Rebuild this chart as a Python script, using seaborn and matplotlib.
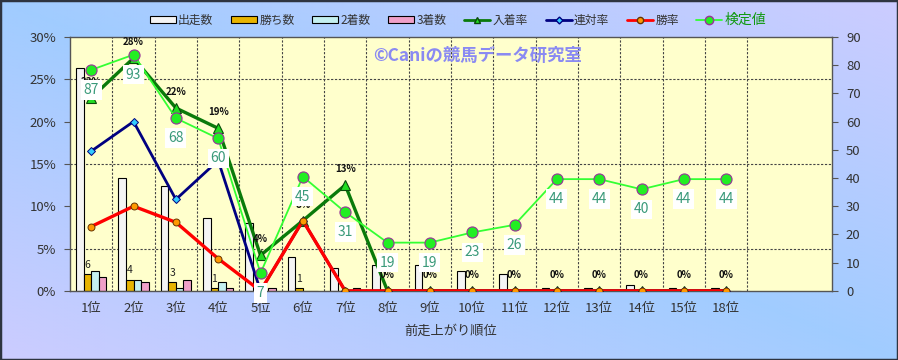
import numpy as np
import pandas as pd
import matplotlib
matplotlib.use("Agg")
import matplotlib.pyplot as plt
from matplotlib.patches import Rectangle, Patch
from matplotlib.lines import Line2D
import seaborn as sns

sns.set_theme(style="white")
plt.rcParams["font.family"] = ["Noto Sans CJK JP", "DejaVu Sans"]

# ── data ────────────────────────────────────────────────────────────────
POSITIONS = ["1位", "2位", "3位", "4位", "5位", "6位", "7位", "8位",
             "9位", "10位", "11位", "12位", "13位", "14位", "15位", "18位"]
SLOTS = POSITIONS + ["", " "]          # two empty slots at the right end

STARTS = [79, 40, 37, 26, 24, 12, 8, 9, 9, 7, 6, 1, 1, 2, 1, 1]
WINS = [6, 4, 3, 1, 0, 1, 0, 0, 0, 0, 0, 0, 0, 0, 0, 0]
SECONDS = [7, 4, 1, 3, 0, 0, 0, 0, 0, 0, 0, 0, 0, 0, 0, 0]
THIRDS = [5, 3, 4, 1, 1, 0, 1, 0, 0, 0, 0, 0, 0, 0, 0, 0]

PLACE_RATE = [22.8, 27.5, 21.6, 19.2, 4.2, 8.3, 12.5, 0, 0, 0, 0, 0, 0, 0, 0, 0]
QUINELLA_RATE = [16.5, 20.0, 10.8, 15.4, 0, 8.3, 0, 0, 0, 0, 0, 0, 0, 0, 0, 0]
WIN_RATE = [7.6, 10.0, 8.1, 3.8, 0, 8.3, 0, 0, 0, 0, 0, 0, 0, 0, 0, 0]

TEST_VALUE = [87, 93, 68, 60, 7, 45, 31, 19, 19, 23, 26, 44, 44, 40, 44, 44]

BAR_SERIES = ["出走数", "勝ち数", "2着数", "3着数"]
BAR_COLORS = ["#F4F4F4", "#E8B400", "#C4F0F0", "#F0A0C8"]

# ── figure + gradient background ────────────────────────────────────────
fig = plt.figure(figsize=(8.98, 3.6), dpi=100)
bg = fig.add_axes([0, 0, 1, 1])
bg.set_zorder(-10)
xx, yy = np.meshgrid(np.linspace(0, 1, 300), np.linspace(0, 1, 120))
t = np.abs(xx - yy)[..., None]
blue = np.array([0.63, 0.80, 1.0])
lav = np.array([0.80, 0.80, 1.0])
bg.imshow(blue * (1 - t) + lav * t, aspect="auto", extent=[0, 1, 0, 1], origin="upper")
bg.set_xlim(0, 1)
bg.set_ylim(0, 1)
bg.axis("off")
bg.add_patch(Rectangle((0, 0), 1, 1, transform=bg.transAxes, fill=False,
                       edgecolor="#2E3440", linewidth=2.5))

ax = fig.add_axes([0.078, 0.192, 0.8485, 0.7055])
ax.set_facecolor("#FFFFCC")
ax2 = ax.twinx()   # rates, left axis
ax3 = ax.twinx()   # test value, hidden scale

# bars (counts, right axis 0-90)
long = pd.DataFrame({
    "pos": np.tile(POSITIONS, 4),
    "count": STARTS + WINS + SECONDS + THIRDS,
    "series": np.repeat(BAR_SERIES, len(POSITIONS)),
})
sns.barplot(data=long, x="pos", y="count", hue="series", order=SLOTS,
            hue_order=BAR_SERIES, palette=BAR_COLORS, saturation=1,
            width=0.72, edgecolor="black", linewidth=0.8, errorbar=None,
            legend=False, ax=ax, zorder=2)
win_bars = ax.containers[1]
ax.bar_label(win_bars, labels=[f"{int(v)}" if v > 0 else "" for v in win_bars.datavalues],
             padding=3, fontsize=7.5, color="#222222")

ax.set_ylim(0, 90)
ax.set_xlim(-0.5, len(SLOTS) - 0.5)
ax.set_yticks(np.arange(0, 91, 10))
ax.set_yticks(np.arange(15, 90, 15), minor=True)
ax.set_xticks(np.arange(len(SLOTS)))
ax.set_xticklabels(SLOTS)
ax.set_xticks(np.arange(0.5, len(POSITIONS) + 0.5, 1), minor=True)
ax.grid(which="minor", color="#444444", linestyle=(0, (2, 1.5)), linewidth=0.8, zorder=0)
ax.set_axisbelow(True)
ax.yaxis.tick_right()
ax.tick_params(axis="y", which="major", direction="out", length=4, width=0.8,
               color="#555555", labelsize=9.5, labelcolor="#333333",
               left=False, right=True, labelleft=False, labelright=True, pad=6)
ax.tick_params(axis="y", which="minor", length=0)
ax.tick_params(axis="x", which="both", length=0, labelsize=9.5, labelcolor="#333333", pad=8)
ax.set_xlabel("前走上がり順位", fontsize=9.5, color="#333333", labelpad=7)
ax.set_ylabel("")
for s in ax.spines.values():
    s.set_color("#555555")
    s.set_linewidth(1)

ax.text(0.535, 0.925, "©Caniの競馬データ研究室", transform=ax.transAxes,
        ha="center", va="center", fontsize=12.5, fontweight="bold", color="#8A8AF2", zorder=1)

# rates (left axis 0-30%)
x = np.arange(len(POSITIONS))
sns.lineplot(x=x, y=PLACE_RATE, ax=ax2, color="#0A7A0A", linewidth=2.4,
             marker="^", markersize=7, markerfacecolor="#22DD22",
             markeredgecolor="#0A4A0A", markeredgewidth=0.8)
sns.lineplot(x=x, y=QUINELLA_RATE, ax=ax2, color="#000080", linewidth=2.0,
             marker="D", markersize=4.5, markerfacecolor="#33CCFF",
             markeredgecolor="#000080", markeredgewidth=0.7)
sns.lineplot(x=x, y=WIN_RATE, ax=ax2, color="#FF0000", linewidth=2.4,
             marker="o", markersize=5, markerfacecolor="#FF9900",
             markeredgecolor="#663300", markeredgewidth=0.7)
for i, v in enumerate(PLACE_RATE):
    ax2.annotate(f"{int(v + 0.5)}%", (i, v), xytext=(0, 11), textcoords="offset pixels",
                 ha="center", va="bottom", fontsize=7, fontweight="bold", color="#111111")
ax2.set_ylim(0, 30)
ax2.set_yticks(np.arange(0, 31, 5))
ax2.yaxis.set_major_formatter(lambda v, _: f"{int(v)}%")
ax2.yaxis.tick_left()
ax2.tick_params(axis="y", direction="out", length=4, width=0.8, color="#555555",
                labelsize=9.5, labelcolor="#333333", left=True, right=False,
                labelleft=True, labelright=False, pad=6)
ax2.set_ylabel("")
for s in ax2.spines.values():
    s.set_visible(False)

# test value (own hidden 0-100 scale)
sns.lineplot(x=x, y=TEST_VALUE, ax=ax3, color="#33FF33", linewidth=1.3,
             marker="o", markersize=8, markerfacecolor="#22EE22",
             markeredgecolor="#993399", markeredgewidth=0.8)
for i, v in enumerate(TEST_VALUE):
    ax3.annotate(f"{v}", (i, v), xytext=(0, -20), textcoords="offset pixels",
                 ha="center", va="center", fontsize=10, color="#3A9A7A", zorder=10,
                 bbox=dict(boxstyle="square,pad=0.2", facecolor="white", edgecolor="none"))
ax3.set_ylim(0, 100)
ax3.set_yticks([])
ax3.set_ylabel("")
for s in ax3.spines.values():
    s.set_visible(False)
ax3.set_xlim(-0.5, len(SLOTS) - 0.5)

# legend
handles = [Patch(facecolor=c, edgecolor="black", linewidth=0.8) for c in BAR_COLORS]
handles += [
    Line2D([], [], color="#0A7A0A", lw=2, marker="^", ms=5, mfc="#22DD22", mec="#0A4A0A"),
    Line2D([], [], color="#000080", lw=2, marker="D", ms=3.5, mfc="#33CCFF", mec="#000080"),
    Line2D([], [], color="#FF0000", lw=2, marker="o", ms=4.5, mfc="#FF9900", mec="#663300"),
    Line2D([], [], color="#33FF33", lw=1.3, marker="o", ms=6, mfc="#22EE22", mec="#993399"),
]
labels = BAR_SERIES + ["入着率", "連対率", "勝率", "検定値"]
leg = fig.legend(handles, labels, loc="center", bbox_to_anchor=(0.51, 0.945), ncol=8,
                 frameon=False, fontsize=8.5, handlelength=2.2, handleheight=0.45,
                 handletextpad=0.2, columnspacing=1.5)
for txt in leg.get_texts():
    txt.set_color("#333333")
leg.get_texts()[-1].set_color("#119911")
leg.get_texts()[-1].set_fontsize(10)

fig.savefig("out.png", dpi=100)
